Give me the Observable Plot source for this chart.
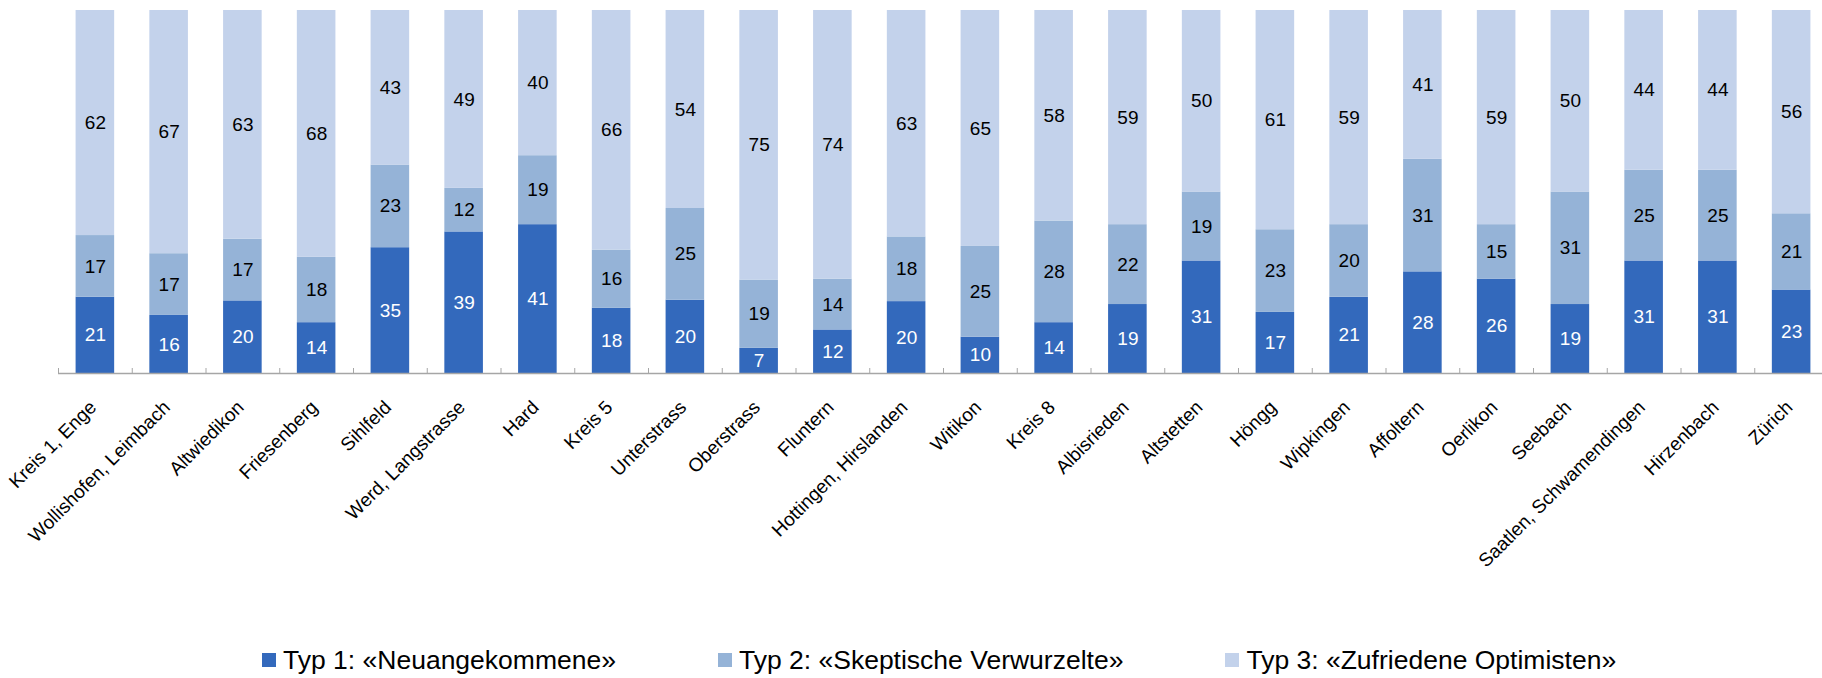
<!DOCTYPE html>
<html>
<head>
<meta charset="utf-8">
<script src="https://cdn.jsdelivr.net/npm/d3@7"></script>
<script src="https://cdn.jsdelivr.net/npm/@observablehq/plot@0.6"></script>
<style>
  html, body { margin: 0; padding: 0; background: #ffffff; overflow: hidden; }
  #chart svg { display: block; max-width: none; }
  #legend {
    display: flex; align-items: center;
    margin-top: 13px; padding-left: 262px; height: 34px;
    font-family: "Liberation Sans", Arial, sans-serif; font-size: 26.5px; line-height: 34px; color: #000;
    white-space: nowrap;
  }
  #legend .item { display: flex; align-items: center; margin-right: 102px; }
  #legend .sw { width: 14px; height: 14px; margin-right: 7px; flex: none; }
</style>
</head>
<body>
<div id="chart"></div>
<div id="legend"></div>
<script>
const categories = ["Kreis 1, Enge", "Wollishofen, Leimbach", "Altwiedikon", "Friesenberg", "Sihlfeld", "Werd, Langstrasse", "Hard", "Kreis 5", "Unterstrass", "Oberstrass", "Fluntern", "Hottingen, Hirslanden", "Witikon", "Kreis 8", "Albisrieden", "Altstetten", "Höngg", "Wipkingen", "Affoltern", "Oerlikon", "Seebach", "Saatlen, Schwamendingen", "Hirzenbach", "Zürich"];
const typ1 = [21, 16, 20, 14, 35, 39, 41, 18, 20, 7, 12, 20, 10, 14, 19, 31, 17, 21, 28, 26, 19, 31, 31, 23];
const typ2 = [17, 17, 17, 18, 23, 12, 19, 16, 25, 19, 14, 18, 25, 28, 22, 19, 23, 20, 31, 15, 31, 25, 25, 21];
const typ3 = [62, 67, 63, 68, 43, 49, 40, 66, 54, 75, 74, 63, 65, 58, 59, 50, 61, 59, 41, 59, 50, 44, 44, 56];
const seriesNames = ["Typ 1: «Neuangekommene»", "Typ 2: «Skeptische Verwurzelte»", "Typ 3: «Zufriedene Optimisten»"];
const seriesColors = ["#3369BC", "#95B3D7", "#C3D2EB"];
const labelColors = ["#ffffff", "#000000", "#000000"];

const series = [typ1, typ2, typ3];
const rows = categories.flatMap((c, i) => series.map((arr, k) => ({cat: c, type: k, value: arr[i]})));

const W = 1828, ML = 58, MR = 0;
const step = (W - ML - MR) / categories.length;
const inset = step * 0.2385;

const chart = Plot.plot({
  width: W, height: 630,
  marginLeft: ML, marginRight: MR, marginTop: 10, marginBottom: 257,
  x: {domain: categories, padding: 0, round: false, axis: null},
  y: {domain: [0, 1], axis: null},
  color: {type: "identity"},
  style: {fontFamily: "'Liberation Sans', Arial, sans-serif", background: "#ffffff", overflow: "visible", maxWidth: "none"},
  marks: [
    Plot.barY(rows, Plot.stackY({x: "cat", y: "value", z: "type", offset: "normalize",
      fill: d => seriesColors[d.type], insetLeft: inset, insetRight: inset})),
    Plot.text(rows, Plot.stackY({x: "cat", y: "value", z: "type", offset: "normalize",
      text: "value", fill: d => labelColors[d.type], fontSize: 19})),
    Plot.ruleY([0], {stroke: "#a6a6a6", strokeWidth: 1.5}),
    Plot.ruleX(categories, {x: d => d, y1: () => 0, y2: () => 0, insetTop: -5, dx: -step / 2, stroke: "#a6a6a6", strokeWidth: 1}),
    Plot.text(categories, {x: d => d, frameAnchor: "bottom", dx: 2, dy: 35, rotate: -45,
      textAnchor: "end", fontSize: 19, fill: "#000000"})
  ]
});
document.getElementById("chart").appendChild(chart);

const legend = document.getElementById("legend");
seriesNames.forEach((name, k) => {
  const item = document.createElement("div");
  item.className = "item";
  const sw = document.createElement("span");
  sw.className = "sw";
  sw.style.background = seriesColors[k];
  const t = document.createElement("span");
  t.textContent = name;
  item.appendChild(sw);
  item.appendChild(t);
  legend.appendChild(item);
});
</script>
</body>
</html>
